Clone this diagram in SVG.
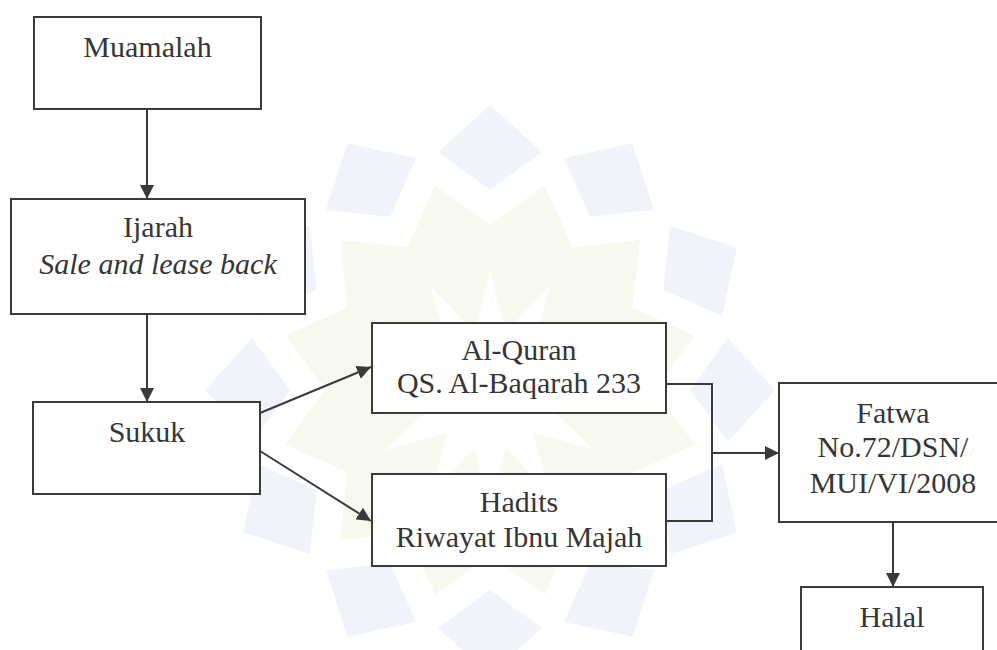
<svg xmlns="http://www.w3.org/2000/svg" width="997" height="650" viewBox="0 0 997 650">
<style>
.box{fill:#ffffff;stroke:#3a3a3a;stroke-width:2}
.lbl{font-family:"Liberation Serif","Times New Roman",serif;font-size:30px;fill:#363636;text-anchor:middle}
.it{font-style:italic}
.con{fill:none;stroke:#3a3a3a;stroke-width:2}
.wmb{fill:#f0f4fa}
.wmy{fill:#f7f9ef}
</style>
<defs>
<marker id="ah" markerUnits="userSpaceOnUse" markerWidth="14" markerHeight="14" refX="14" refY="7" orient="auto">
<path d="M0,0 L14,7 L0,14 z" fill="#3a3a3a"/>
</marker>
<path id="petal" d="M0,-60 L-50,-150 L0,-212 L50,-150 z"/>
<path id="dia" d="M0,-285 L-52,-238 L0,-200 L52,-238 z"/>
</defs>
<rect width="997" height="650" fill="#ffffff"/>
<g id="watermark" transform="translate(490,390)">
<g class="wmy">
<use href="#petal" transform="rotate(15)"/><use href="#petal" transform="rotate(45)"/><use href="#petal" transform="rotate(75)"/><use href="#petal" transform="rotate(105)"/><use href="#petal" transform="rotate(135)"/><use href="#petal" transform="rotate(165)"/><use href="#petal" transform="rotate(195)"/><use href="#petal" transform="rotate(225)"/><use href="#petal" transform="rotate(255)"/><use href="#petal" transform="rotate(285)"/><use href="#petal" transform="rotate(315)"/><use href="#petal" transform="rotate(345)"/>
</g>
<g class="wmb">
<use href="#dia" transform="rotate(0)"/><use href="#dia" transform="rotate(30)"/><use href="#dia" transform="rotate(60)"/><use href="#dia" transform="rotate(90)"/><use href="#dia" transform="rotate(120)"/><use href="#dia" transform="rotate(150)"/><use href="#dia" transform="rotate(180)"/><use href="#dia" transform="rotate(210)"/><use href="#dia" transform="rotate(240)"/><use href="#dia" transform="rotate(270)"/><use href="#dia" transform="rotate(300)"/><use href="#dia" transform="rotate(330)"/>
</g>
</g>
<g id="connectors">
<line class="con" x1="147" y1="109" x2="147" y2="199" marker-end="url(#ah)"/>
<line class="con" x1="147" y1="314" x2="147" y2="402" marker-end="url(#ah)"/>
<line class="con" x1="260" y1="413" x2="371" y2="367" marker-end="url(#ah)"/>
<line class="con" x1="260" y1="451" x2="371" y2="521" marker-end="url(#ah)"/>
<polyline class="con" points="666,384 712,384 712,521 666,521"/>
<line class="con" x1="712" y1="453" x2="779" y2="453" marker-end="url(#ah)"/>
<line class="con" x1="893" y1="522" x2="893" y2="587" marker-end="url(#ah)"/>
</g>
<g id="muamalah">
<rect class="box" x="34" y="17" width="227" height="92"/>
<text class="lbl" x="147.5" y="57">Muamalah</text>
</g>
<g id="ijarah">
<rect class="box" x="11" y="199" width="294" height="115"/>
<text class="lbl" x="158" y="237">Ijarah</text>
<text class="lbl it" x="158" y="274">Sale and lease back</text>
</g>
<g id="sukuk">
<rect class="box" x="33" y="402" width="227" height="92"/>
<text class="lbl" x="147" y="442">Sukuk</text>
</g>
<g id="alquran">
<rect class="box" x="372" y="323" width="294" height="90"/>
<text class="lbl" x="519" y="360">Al-Quran</text>
<text class="lbl" x="519" y="393">QS. Al-Baqarah 233</text>
</g>
<g id="hadits">
<rect class="box" x="372" y="474" width="294" height="92"/>
<text class="lbl" x="519" y="512">Hadits</text>
<text class="lbl" x="519" y="547">Riwayat Ibnu Majah</text>
</g>
<g id="fatwa">
<rect class="box" x="779" y="383" width="222" height="139"/>
<text class="lbl" x="893" y="423">Fatwa</text>
<text class="lbl" x="893" y="457">No.72/DSN/</text>
<text class="lbl" x="893" y="493">MUI/VI/2008</text>
</g>
<g id="halal">
<rect class="box" x="801" y="587" width="182" height="80"/>
<text class="lbl" x="892" y="627">Halal</text>
</g>
</svg>
